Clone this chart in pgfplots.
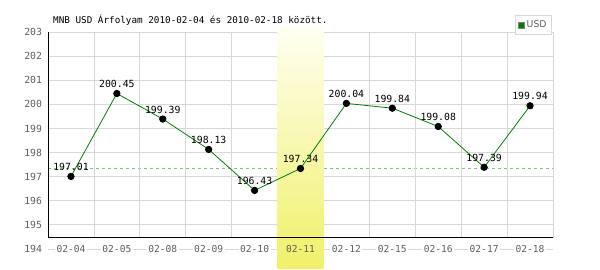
\documentclass[border=0pt]{standalone}
\usepackage{pgfplots}
\pgfplotsset{compat=1.18}
\usepackage{fontspec}
\setmainfont{DejaVu Sans Mono}
\newfontfamily\legfont{DejaVu Sans}
\definecolor{gridc}{RGB}{216,216,216}
\definecolor{linec}{RGB}{0,128,0}
\definecolor{dashc}{RGB}{128,200,128}
\definecolor{tickc}{RGB}{95,95,95}
\definecolor{hlbot}{RGB}{240,240,105}
\definecolor{hltop}{RGB}{255,255,242}
\newcommand\wl[1]{{\setlength{\fboxsep}{1.5pt}\colorbox{white}{#1}}}
\begin{document}
\begin{tikzpicture}
\path (0,0) rectangle (600pt,270pt);
\node[anchor=base west, inner sep=0pt, font=\fontsize{9.3}{11}\selectfont] at (53pt,246pt) {MNB USD Árfolyam 2010-02-04 és 2010-02-18 között.};
\begin{axis}[
  set layers=standard,
  at={(48pt,21pt)}, anchor=south west,
  scale only axis, width=505pt, height=217pt,
  xmin=-0.5, xmax=10.5, ymin=194, ymax=203,
  clip=false,
  unbounded coords=jump,
  axis line style={draw=none},
  major tick length=0pt,
  xtick={0,...,10},
  xticklabels={\wl{02-04},\wl{02-05},\wl{02-08},\wl{02-09},\wl{02-10},02-11,\wl{02-12},\wl{02-15},\wl{02-16},\wl{02-17},\wl{02-18}},
  ytick={194,...,203},
  ymajorgrids, grid style={gridc, line width=0.8pt},
  xticklabel style={anchor=center, text=tickc, font=\fontsize{9.6}{11}\selectfont},
  yticklabel style={text=tickc, font=\fontsize{9.8}{11}\selectfont, xshift=-2.5pt},
  /pgf/number format/assume math mode=true,
  legend style={at={(rel axis cs:0.998,1.078)}, anchor=north east, draw=gridc, line width=0.8pt,
    font=\legfont\fontsize{9.3}{11}\selectfont, text=tickc, inner xsep=3pt, inner ysep=3.5pt,
    /tikz/every even column/.append style={column sep=1pt}},
]
\addplot[dashc, dash pattern=on 3pt off 3pt, line width=0.8pt, forget plot, on layer=axis grid] coordinates {(-0.5,197.34) (10.5,197.34)};
\addplot[gridc, line width=0.8pt, forget plot, on layer=axis grid] coordinates {
 (0.5,194.46) (0.5,203) (0.5,nan)
 (1.5,194.46) (1.5,203) (1.5,nan)
 (2.5,194.46) (2.5,203) (2.5,nan)
 (3.5,194.46) (3.5,203) (3.5,nan)
 (4.5,194.46) (4.5,203) (4.5,nan)
 (5.5,194.46) (5.5,203) (5.5,nan)
 (6.5,194.46) (6.5,203) (6.5,nan)
 (7.5,194.46) (7.5,203) (7.5,nan)
 (8.5,194.46) (8.5,203) (8.5,nan)
 (9.5,194.46) (9.5,203) (9.5,nan)
 (10.5,194.46) (10.5,203)};
\addplot[draw=none, top color=hltop, bottom color=hlbot, forget plot, on layer=axis ticks] coordinates {(4.5,193.21) (5.5,193.21) (5.5,203.2) (4.5,203.2)} -- cycle;
\addplot[black, line width=1pt, forget plot, on layer=axis lines] coordinates {(-0.5,203) (-0.5,194.46) (10.5,194.46)};
\addplot[linec, line width=0.8pt, forget plot, mark=*, mark size=3.2pt, mark options={black, fill=black},
  nodes near coords={\pgfmathprintnumber[fixed,fixed zerofill,precision=2]{\pgfplotspointmeta}},
  every node near coord/.append style={anchor=base, yshift=6pt, text=black, font=\fontsize{9.8}{11}\selectfont}]
coordinates {(0,197.01) (1,200.45) (2,199.39) (3,198.13) (4,196.43) (5,197.34) (6,200.04) (7,199.84) (8,199.08) (9,197.39) (10,199.94)};
\addlegendimage{legend image code/.code={\draw[fill=linec, draw=gray, line width=0.6pt] (0pt,-3pt) rectangle (6pt,3pt);}}
\addlegendentry{USD}
\end{axis}
\end{tikzpicture}
\end{document}
